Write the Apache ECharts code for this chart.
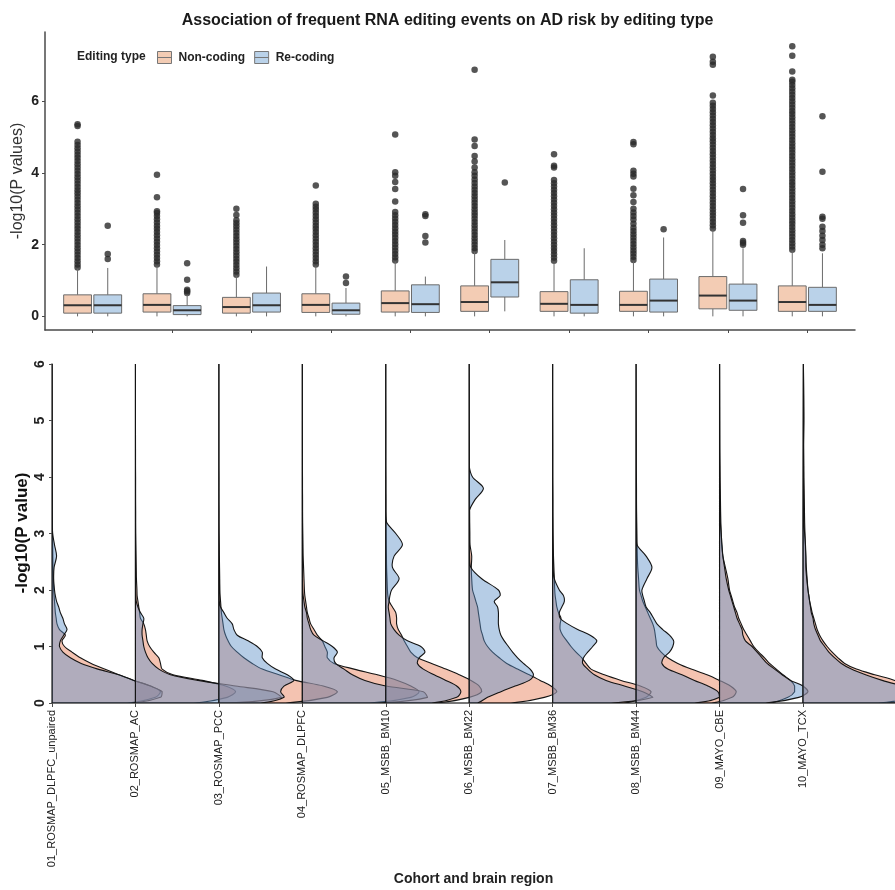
<!DOCTYPE html>
<html>
<head>
<meta charset="utf-8">
<script src="https://cdn.jsdelivr.net/npm/echarts@6/dist/echarts.min.js"></script>
<style>
  html, body { margin: 0; padding: 0; background: #ffffff; }
  #chart { width: 895px; height: 890px; }
</style>
</head>
<body>
<div id="chart"></div>
<script>
// ---- data ------------------------------------------------------------
const categories = ['01_ROSMAP_DLPFC_unpaired', '02_ROSMAP_AC', '03_ROSMAP_PCC', '04_ROSMAP_DLPFC',
  '05_MSBB_BM10', '06_MSBB_BM22', '07_MSBB_BM36', '08_MSBB_BM44', '09_MAYO_CBE', '10_MAYO_TCX'];
const editingTypes = ['Non-coding', 'Re-coding'];

// box statistics: [lower whisker, Q1, median, Q3, upper whisker]
const nonCodingBox = [
  [0.00, 0.09, 0.31, 0.60, 1.33], [0.00, 0.12, 0.32, 0.63, 1.40], [0.00, 0.09, 0.26, 0.53, 1.13],
  [0.00, 0.11, 0.32, 0.63, 1.40], [0.00, 0.12, 0.37, 0.71, 1.53], [0.00, 0.14, 0.40, 0.85, 1.80],
  [0.00, 0.14, 0.35, 0.69, 1.50], [0.00, 0.14, 0.32, 0.70, 1.53], [0.00, 0.21, 0.58, 1.11, 2.40],
  [0.00, 0.14, 0.40, 0.85, 1.82]
];
const reCodingBox = [
  [0.00, 0.09, 0.31, 0.60, 1.35], [0.00, 0.05, 0.17, 0.30, 0.60], [0.00, 0.12, 0.31, 0.65, 1.39],
  [0.00, 0.06, 0.17, 0.37, 0.79], [0.00, 0.11, 0.34, 0.88, 1.11], [0.14, 0.54, 0.95, 1.59, 2.13],
  [0.00, 0.09, 0.32, 1.02, 1.90], [0.00, 0.12, 0.44, 1.04, 2.20], [0.00, 0.17, 0.44, 0.90, 1.90],
  [0.00, 0.14, 0.32, 0.81, 1.76]
];

// outlying -log10(P) values beyond the whiskers
const nonCodingOutliers = [
  [1.36,1.45,1.54,1.63,1.72,1.81,1.9,1.99,2.08,2.17,2.26,2.35,2.44,2.53,2.62,2.71,2.8,2.89,2.98,3.07,3.16,3.25,3.34,3.43,3.52,3.61,3.7,3.79,3.88,3.97,4.06,4.15,4.24,4.33,4.42,4.51,4.6,4.69,4.78,4.87,5.31,5.36],
  [1.45,1.54,1.63,1.72,1.81,1.9,1.99,2.08,2.17,2.26,2.35,2.44,2.53,2.62,2.71,2.8,2.88,2.93,3.32,3.95],
  [1.16,1.25,1.34,1.43,1.52,1.61,1.7,1.79,1.88,1.97,2.06,2.15,2.24,2.33,2.42,2.51,2.6,2.68,2.83,3.0],
  [1.45,1.54,1.63,1.72,1.81,1.9,1.99,2.08,2.17,2.26,2.35,2.44,2.53,2.62,2.71,2.8,2.89,2.98,3.06,3.14,3.65],
  [1.56,1.65,1.74,1.83,1.92,2.01,2.1,2.19,2.28,2.37,2.46,2.55,2.64,2.73,2.82,2.91,3.2,3.55,3.75,3.92,4.02,5.07],
  [1.82,1.91,2.0,2.09,2.18,2.27,2.36,2.45,2.54,2.63,2.72,2.81,2.9,2.99,3.08,3.17,3.26,3.35,3.44,3.53,3.62,3.72,3.82,3.92,4.02,4.15,4.32,4.47,4.75,4.93,6.88],
  [1.55,1.64,1.73,1.82,1.91,2.0,2.09,2.18,2.27,2.36,2.45,2.54,2.63,2.72,2.81,2.9,2.99,3.08,3.17,3.26,3.35,3.44,3.53,3.62,3.71,3.8,4.15,4.2,4.52],
  [1.57,1.66,1.75,1.84,1.93,2.02,2.11,2.2,2.29,2.38,2.47,2.58,2.7,2.8,2.9,3.0,3.19,3.38,3.56,3.9,3.98,4.06,4.8,4.86],
  [2.45,2.54,2.63,2.72,2.81,2.9,2.99,3.08,3.17,3.26,3.35,3.44,3.53,3.62,3.71,3.8,3.89,3.98,4.07,4.16,4.25,4.34,4.43,4.52,4.61,4.7,4.79,4.88,4.97,5.06,5.15,5.24,5.33,5.42,5.51,5.6,5.69,5.78,5.87,5.96,6.16,7.02,7.1,7.24],
  [1.86,1.95,2.04,2.13,2.22,2.31,2.4,2.49,2.58,2.67,2.76,2.85,2.94,3.03,3.12,3.21,3.3,3.39,3.48,3.57,3.66,3.75,3.84,3.93,4.02,4.11,4.2,4.29,4.38,4.47,4.56,4.65,4.74,4.83,4.92,5.01,5.1,5.19,5.28,5.37,5.46,5.55,5.64,5.73,5.82,5.91,6.0,6.09,6.18,6.27,6.36,6.45,6.54,6.6,6.83,7.27,7.53]
];
const reCodingOutliers = [
  [1.6, 1.74, 2.53], [0.65, 0.7, 0.74, 1.02, 1.48], [], [0.93, 1.11], [2.06, 2.24, 2.8, 2.85],
  [3.73], [], [2.43], [2.0, 2.05, 2.1, 2.61, 2.82, 3.55],
  [1.9, 2.0, 2.13, 2.25, 2.38, 2.5, 2.72, 2.78, 4.03, 5.58]
];

// density profiles: heights (-log10 P) and the half-violin width at each height
const densityY = [0, 0.1, 0.2, 0.3, 0.4, 0.5, 0.6, 0.7, 0.8, 0.9, 1.0, 1.1, 1.2, 1.3, 1.4, 1.5, 1.6, 1.7, 1.8, 1.9, 2.0,
  2.2, 2.4, 2.6, 2.8, 3.0, 3.2, 3.4, 3.6, 3.8, 4.0, 4.2, 4.5, 5.0, 5.5, 6.0];
const nonCodingDensity = [
  [0.90,1.24,1.30,1.18,0.98,0.80,0.63,0.47,0.34,0.24,0.15, 0.12,0.16,0.09,0.06,0.05,0.04,0.035,0.03,0.025,0.02, 0.016,0.012,0.01,0.008,0.006,0.005,0.004,0.004,0.003,0.003,0.002, 0.002,0.001,0.001,0],
  [0.70,1.10,1.20,1.08,0.80,0.45,0.32,0.30,0.28,0.22,0.17, 0.14,0.13,0.12,0.10,0.06,0.05,0.04,0.03,0.02,0.018, 0.012,0.01,0.008,0.006,0.004,0.003,0.003,0.002,0.002,0.002,0.001, 0.001,0,0,0],
  [0.80,1.30,1.42,1.25,0.92,0.72,0.52,0.40,0.30,0.22,0.15, 0.11,0.08,0.06,0.05,0.04,0.03,0.025,0.02,0.015,0.012, 0.01,0.008,0.006,0.005,0.003,0.002,0.002,0.001,0.001,0.001,0, 0,0,0,0],
  [0.80,1.30,1.40,1.30,1.14,0.90,0.62,0.38,0.30,0.30,0.27, 0.24,0.18,0.14,0.10,0.08,0.06,0.05,0.04,0.03,0.025, 0.02,0.015,0.01,0.008,0.006,0.004,0.003,0.003,0.002,0.002,0.001, 0.001,0,0,0],
  [0.60,1.00,1.15,1.12,1.02,0.88,0.72,0.55,0.38,0.30,0.26, 0.22,0.19,0.15,0.13,0.13,0.12,0.08,0.04,0.025,0.02, 0.015,0.01,0.008,0.006,0.005,0.004,0.003,0.003,0.002,0.002,0.001, 0.001,0.001,0,0],
  [0.50,0.90,1.05,0.98,0.85,0.72,0.58,0.45,0.36,0.28,0.22, 0.18,0.16,0.14,0.13,0.12,0.11,0.10,0.08,0.06,0.04, 0.03,0.025,0.03,0.01,0.008,0.006,0.005,0.004,0.003,0.003,0.002, 0.002,0.001,0.001,0],
  [0.85,1.12,1.18,1.05,0.82,0.62,0.46,0.40,0.35,0.28,0.22, 0.17,0.12,0.09,0.09,0.10,0.07,0.05,0.04,0.03,0.025, 0.02,0.015,0.01,0.008,0.006,0.005,0.004,0.004,0.003,0.002,0.002, 0.002,0.001,0,0],
  [0.90,1.15,1.20,1.13,1.00,0.85,0.66,0.50,0.38,0.30,0.25, 0.24,0.23,0.22,0.20,0.17,0.14,0.11,0.08,0.06,0.04, 0.03,0.02,0.015,0.012,0.01,0.008,0.006,0.005,0.005,0.004,0.003, 0.003,0.002,0.001,0],
  [0.60,0.82,0.90,0.90,0.85,0.76,0.68,0.60,0.54,0.47,0.41, 0.37,0.33,0.29,0.26,0.23,0.21,0.18,0.16,0.14,0.12, 0.10,0.07,0.04,0.025,0.02,0.016,0.013,0.011,0.009,0.008,0.007, 0.005,0.004,0.003,0.002],
  [0.90,1.30,1.35,1.25,1.10,0.86,0.64,0.50,0.42,0.35,0.29, 0.24,0.20,0.17,0.15,0.13,0.11,0.095,0.08,0.07,0.06, 0.05,0.04,0.033,0.028,0.024,0.02,0.018,0.016,0.014,0.012,0.011, 0.009,0.007,0.005,0.004]
];
const reCodingDensity = [
  [0.95,1.30,1.32,1.18,0.98,0.80,0.55,0.35,0.22,0.13,0.09, 0.10,0.14,0.18,0.15,0.13,0.10,0.08,0.055,0.04,0.03, 0.02,0.025,0.055,0.03,0.008,0.003,0.002,0.001,0.001,0,0, 0,0,0,0],
  [1.10,1.75,1.65,1.20,0.75,0.42,0.28,0.20,0.15,0.12,0.10, 0.09,0.08,0.08,0.09,0.10,0.06,0.03,0.01,0.005,0.002, 0,0,0,0,0,0,0,0,0,0,0, 0,0,0,0],
  [0.50,0.78,0.74,0.78,0.90,0.82,0.68,0.58,0.52,0.52,0.46, 0.35,0.22,0.18,0.16,0.10,0.06,0.02,0.005,0.002,0, 0,0,0,0,0,0,0,0,0,0,0, 0,0,0,0],
  [0.90,1.50,1.45,1.00,0.75,0.60,0.50,0.40,0.38,0.42,0.36, 0.25,0.14,0.10,0.08,0.06,0.05,0.03,0.02,0.01,0.005, 0,0,0,0,0,0,0,0,0,0,0, 0,0,0,0],
  [0.55,0.85,0.90,0.85,0.72,0.58,0.45,0.38,0.40,0.47,0.42, 0.26,0.16,0.10,0.06,0.05,0.04,0.03,0.04,0.05,0.07, 0.16,0.08,0.10,0.20,0.12,0.01,0,0,0,0,0, 0,0,0,0],
  [0.10,0.22,0.38,0.55,0.72,0.77,0.73,0.65,0.58,0.52,0.47, 0.42,0.38,0.36,0.35,0.35,0.35,0.34,0.30,0.37,0.35, 0.15,0.02,0.005,0,0,0,0,0.07,0.17,0.04,0, 0,0,0,0],
  [0.70,1.20,1.08,0.86,0.64,0.50,0.42,0.36,0.37,0.42,0.48, 0.53,0.45,0.30,0.18,0.09,0.08,0.11,0.14,0.13,0.08, 0.02,0.005,0,0,0,0,0,0,0,0,0, 0,0,0,0],
  [0.70,1.00,0.98,0.86,0.70,0.55,0.38,0.31,0.33,0.40,0.44, 0.45,0.40,0.32,0.25,0.21,0.17,0.12,0.10,0.08,0.07, 0.13,0.19,0.12,0.01,0,0,0,0,0,0,0, 0,0,0,0],
  [0.55,0.95,1.06,1.00,0.85,0.75,0.66,0.57,0.51,0.45,0.39, 0.31,0.28,0.27,0.24,0.21,0.19,0.17,0.15,0.13,0.11, 0.08,0.06,0.04,0.03,0.02,0.01,0.005,0.005,0.003,0,0, 0,0,0,0],
  [1.00,1.45,1.45,1.20,0.95,0.75,0.58,0.46,0.38,0.31,0.26, 0.21,0.18,0.15,0.13,0.12,0.10,0.09,0.08,0.07,0.06, 0.045,0.035,0.035,0.03,0.02,0.012,0.01,0.008,0.007,0.006,0.006, 0.005,0.012,0.01,0.005]
];

// axis ticks
const boxYTicks = [0, 2, 4, 6];

// ---- drawing ---------------------------------------------------------
const FONT = '"Liberation Sans", Arial, sans-serif';
const boxFill = ['#F3CCB4', '#BAD2E9'];
const densityFill = ['rgba(230,125,85,0.46)', 'rgba(95,145,200,0.46)'];
const dodge = [-0.19, 0.19];
const catPositions = categories.map((c, i) => i + 1);

const chart = echarts.init(document.getElementById('chart'), null, { renderer: 'canvas' });

function boxRenderItem(params, api) {
  const x = api.value(0);
  const t = api.value(6);
  const px = x + dodge[t];
  const c = v => api.coord([px, v]);
  const half = api.size([0.35, 0])[0] / 2;
  const lo = c(api.value(1)), q1 = c(api.value(2)), md = c(api.value(3)), q3 = c(api.value(4)), hi = c(api.value(5));
  return {
    type: 'group',
    children: [
      { type: 'line', shape: { x1: lo[0], y1: lo[1], x2: q1[0], y2: q1[1] }, style: { stroke: '#6b6b6b', lineWidth: 1 } },
      { type: 'line', shape: { x1: q3[0], y1: q3[1], x2: hi[0], y2: hi[1] }, style: { stroke: '#6b6b6b', lineWidth: 1 } },
      { type: 'rect', shape: { x: md[0] - half, y: q3[1], width: half * 2, height: q1[1] - q3[1] },
        style: { fill: boxFill[t], stroke: '#6b6b6b', lineWidth: 1 } },
      { type: 'line', shape: { x1: md[0] - half, y1: md[1], x2: md[0] + half, y2: md[1] }, style: { stroke: '#333333', lineWidth: 2 } }
    ]
  };
}

function densityRenderItem(params, api) {
  const x0 = api.value(0);
  const t = api.value(1);
  const widths = (t === 0 ? nonCodingDensity : reCodingDensity)[x0 - 1];
  const pts = [];
  for (let k = densityY.length - 1; k >= 0; k--) {
    pts.push(api.coord([x0 + widths[k], densityY[k]]));
  }
  const base = api.coord([x0, 0]);
  const top = api.coord([x0, densityY[densityY.length - 1]]);
  pts.push(base);
  // keep the smoothed outline inside the profile's own bounding box
  let minX = Infinity, maxX = -Infinity, minY = Infinity, maxY = -Infinity;
  pts.concat([top]).forEach(p => {
    minX = Math.min(minX, p[0]); maxX = Math.max(maxX, p[0]);
    minY = Math.min(minY, p[1]); maxY = Math.max(maxY, p[1]);
  });
  return {
    type: 'polygon',
    shape: { points: pts, smooth: 0.3, smoothConstraint: [[minX, minY], [maxX, maxY]] },
    style: { fill: densityFill[t], stroke: '#141414', lineWidth: 1.1 }
  };
}

function outlierPoints(list, t) {
  const out = [];
  list.forEach((vals, i) => vals.forEach(v => out.push([catPositions[i] + dodge[t], v])));
  return out;
}

const boxData = [nonCodingBox, reCodingBox].map((boxes, t) =>
  boxes.map((b, i) => [catPositions[i], b[0], b[1], b[2], b[3], b[4], t]));

const densityData = [];
catPositions.forEach(p => { densityData.push([p, 0]); densityData.push([p, 1]); });

const axisColor = '#4a4a4a';

const option = {
  animation: false,
  backgroundColor: '#ffffff',
  title: {
    text: 'Association of frequent RNA editing events on AD risk by editing type',
    left: 'center', top: 8,
    textStyle: { fontFamily: FONT, fontSize: 16, fontWeight: 'bold', color: '#1a1a1a' }
  },
  legend: {
    data: editingTypes,
    left: 152, top: 46,
    itemWidth: 14, itemHeight: 12, itemGap: 9,
    icon: 'path://M0,0L14,0L14,12L0,12Z M0,6L14,6',
    selectedMode: false,
    itemStyle: { borderColor: '#777777', borderWidth: 1 },
    textStyle: { fontFamily: FONT, fontSize: 12, fontWeight: 'bold', color: '#222222', padding: [0, 0, 0, 2] }
  },
  graphic: [
    {
      type: 'text', left: 77, top: 51,
      style: { text: 'Editing type', fontFamily: FONT, fontSize: 12, fontWeight: 'bold', fill: '#222222' }
    },
    {
      // y-axis title of the box-plot panel
      type: 'text', x: 17.5, y: 181, rotation: Math.PI / 2,
      style: { text: '-log10(P values)', fontFamily: FONT, fontSize: 16, fill: '#333333', align: 'center', verticalAlign: 'middle' }
    },
    {
      // y-axis title of the density panel
      type: 'text', x: 22, y: 533, rotation: Math.PI / 2,
      style: { text: '-log10(P value)', fontFamily: FONT, fontSize: 17, fontWeight: 'bold', fill: '#111111', align: 'center', verticalAlign: 'middle' }
    }
  ],
  grid: [
    { left: 45, top: 32, width: 810, height: 298 },
    { left: 52, top: 364, width: 843, height: 339 }
  ],
  xAxis: [
    {
      type: 'value', gridIndex: 0, min: 0.4, max: 10.6,
      axisLine: { show: true, onZero: false, lineStyle: { color: axisColor, width: 1.5 } },
      axisTick: { show: true, length: 3, customValues: catPositions, lineStyle: { color: axisColor } },
      axisLabel: { show: false },
      splitLine: { show: false }
    },
    {
      type: 'value', gridIndex: 1, min: 1, max: 11.103,
      axisLine: { show: true, onZero: false, lineStyle: { color: axisColor, width: 1.5 } },
      axisTick: { show: true, length: 4, customValues: catPositions, lineStyle: { color: axisColor } },
      axisLabel: {
        show: true, rotate: 90, margin: 7, customValues: catPositions,
        formatter: v => categories[Math.round(v) - 1] || '',
        fontFamily: FONT, fontSize: 11, color: '#222222'
      },
      splitLine: { show: false },
      name: 'Cohort and brain region', nameLocation: 'middle', nameGap: 169,
      nameTextStyle: { fontFamily: FONT, fontSize: 14, fontWeight: 'bold', color: '#222222' }
    }
  ],
  yAxis: [
    {
      type: 'value', gridIndex: 0, min: -0.38, max: 7.93,
      axisLine: { show: true, onZero: false, lineStyle: { color: axisColor, width: 1.5 } },
      axisTick: { show: true, length: 3, customValues: boxYTicks, lineStyle: { color: axisColor } },
      axisLabel: { show: true, margin: 6, customValues: boxYTicks, fontFamily: FONT, fontSize: 14, fontWeight: 'bold', color: '#222222' },
      splitLine: { show: false }
    },
    {
      type: 'value', gridIndex: 1, min: 0, max: 6, interval: 1,
      axisLine: { show: true, onZero: false, lineStyle: { color: axisColor, width: 1.5 } },
      axisTick: { show: true, length: 3, lineStyle: { color: axisColor } },
      axisLabel: { show: true, rotate: 90, margin: 5, fontFamily: FONT, fontSize: 14, fontWeight: 'bold', color: '#222222' },
      splitLine: { show: false }
    }
  ],
  series: [
    {
      type: 'custom', name: 'Non-coding', xAxisIndex: 0, yAxisIndex: 0,
      itemStyle: { color: boxFill[0] },
      renderItem: boxRenderItem, data: boxData[0], z: 3
    },
    {
      type: 'custom', name: 'Re-coding', xAxisIndex: 0, yAxisIndex: 0,
      itemStyle: { color: boxFill[1] },
      renderItem: boxRenderItem, data: boxData[1], z: 3
    },
    {
      type: 'scatter', name: 'Non-coding outliers', xAxisIndex: 0, yAxisIndex: 0,
      symbolSize: 6.5, itemStyle: { color: '#2b2b2b' }, data: outlierPoints(nonCodingOutliers, 0), z: 2
    },
    {
      type: 'scatter', name: 'Re-coding outliers', xAxisIndex: 0, yAxisIndex: 0,
      symbolSize: 6.5, itemStyle: { color: '#2b2b2b' }, data: outlierPoints(reCodingOutliers, 1), z: 2
    },
    {
      type: 'custom', name: 'Density', xAxisIndex: 1, yAxisIndex: 1,
      clip: true, renderItem: densityRenderItem, data: densityData, z: 1
    }
  ]
};

chart.setOption(option);
</script>
</body>
</html>
